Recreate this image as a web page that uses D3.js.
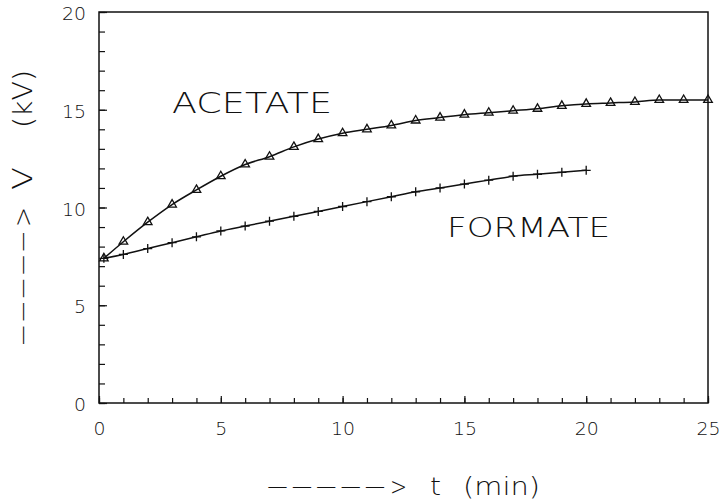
<!DOCTYPE html>
<html>
<head>
<meta charset="utf-8">
<script src="https://cdn.jsdelivr.net/npm/d3@7"></script>
<style>
  html, body { margin: 0; padding: 0; background: #fff; }
  svg { display: block; }
  text { font-family: 'DejaVu Sans', sans-serif; font-weight: 200; fill: #111; }
</style>
</head>
<body>
<svg id="chart" width="722" height="504"></svg>
<script>
// ---- data ----
const acetateT = [0.2, 1, 2, 3, 4, 5, 6, 7, 8, 9, 10, 11, 12, 13, 14, 15, 16, 17, 18, 19, 20, 21, 22, 23, 24, 25];
const acetateV = [7.4, 8.25, 9.25, 10.15, 10.9, 11.6, 12.2, 12.6, 13.1, 13.5, 13.8, 14.0, 14.2, 14.45, 14.6, 14.75, 14.85, 14.95, 15.05, 15.2, 15.3, 15.35, 15.4, 15.5, 15.5, 15.5];
const formateT = [0.2, 1, 2, 3, 4, 5, 6, 7, 8, 9, 10, 11, 12, 13, 14, 15, 16, 17, 18, 19, 20];
const formateV = [7.4, 7.6, 7.9, 8.2, 8.5, 8.8, 9.05, 9.3, 9.55, 9.8, 10.05, 10.3, 10.55, 10.8, 11.0, 11.2, 11.4, 11.6, 11.7, 11.8, 11.9];
const xMajorTicks = [0, 5, 10, 15, 20, 25];
const yMajorTicks = [0, 5, 10, 15, 20];
const xMinorTicks = d3.range(0, 26, 1);
const yMinorTicks = d3.range(0, 21, 1);
const seriesLabels = ["ACETATE", "FORMATE"];

const svg = d3.select("#chart");
const L = 99, R = 708, T = 12, B = 403;
const x = d3.scaleLinear().domain([0, 25]).range([L, R]);
const y = d3.scaleLinear().domain([0, 20]).range([B, T]);

// frame
svg.append("rect").attr("x", L).attr("y", T).attr("width", R - L).attr("height", B - T)
  .attr("fill", "none").attr("stroke", "#111").attr("stroke-width", 1.5);

// axes: minor ticks
const gxMinor = svg.append("g").attr("transform", `translate(0,${B})`)
  .call(d3.axisBottom(x).tickValues(xMinorTicks).tickSize(-5).tickFormat(""));
const gyMinor = svg.append("g").attr("transform", `translate(${L},0)`)
  .call(d3.axisLeft(y).tickValues(yMinorTicks).tickSize(-6).tickFormat(""));
// major ticks with labels
const gx = svg.append("g").attr("transform", `translate(0,${B})`)
  .call(d3.axisBottom(x).tickValues(xMajorTicks).tickSize(-7).tickPadding(20).tickFormat(d3.format("d")));
const gy = svg.append("g").attr("transform", `translate(${L},0)`)
  .call(d3.axisLeft(y).tickValues(yMajorTicks).tickSize(-8).tickPadding(13).tickFormat(d3.format("d")));

[gxMinor, gyMinor, gx, gy].forEach(g => {
  g.select(".domain").remove();
  g.selectAll(".tick line").attr("stroke", "#111").attr("stroke-width", 1.2);
});
[gx, gy].forEach(g => {
  g.selectAll(".tick text")
    .attr("font-family", "'DejaVu Sans', sans-serif")
    .attr("font-weight", 200)
    .attr("font-size", 17)
    .attr("fill", "#111")
    .attr("textLength", d => String(d).length * 12)
    .attr("lengthAdjust", "spacingAndGlyphs");
});
gy.selectAll(".tick text").attr("dy", "0.45em");

// curves
const line = d3.line().x(d => x(d[0])).y(d => y(d[1])).curve(d3.curveMonotoneX);
const acetate = acetateT.map((t, i) => [t, acetateV[i]]);
const formate = formateT.map((t, i) => [t, formateV[i]]);

svg.append("path").datum(acetate).attr("d", line)
  .attr("fill", "none").attr("stroke", "#111").attr("stroke-width", 1.5);
svg.append("path").datum(formate).attr("d", line)
  .attr("fill", "none").attr("stroke", "#111").attr("stroke-width", 1.5);

// markers
const tri = d3.symbol().type(d3.symbolTriangle).size(32);
svg.append("g").selectAll("path").data(acetate).join("path")
  .attr("transform", d => `translate(${x(d[0])},${y(d[1])})`)
  .attr("d", tri).attr("fill", "none").attr("stroke", "#111").attr("stroke-width", 1.3);
svg.append("g").selectAll("path").data(formate).join("path")
  .attr("transform", d => `translate(${x(d[0])},${y(d[1])})`)
  .attr("d", "M-4.5,0H4.5M0,-4.5V4.5").attr("fill", "none").attr("stroke", "#111").attr("stroke-width", 1.3);

// series labels
svg.append("text").attr("x", 172).attr("y", 113).attr("font-size", 28)
  .attr("textLength", 160).attr("lengthAdjust", "spacingAndGlyphs").text(seriesLabels[0]);
svg.append("text").attr("x", 447).attr("y", 237).attr("font-size", 27)
  .attr("textLength", 163).attr("lengthAdjust", "spacingAndGlyphs").text(seriesLabels[1]);

// x title
const xt = svg.append("g");
const xParts = [["−−−−−", 265, 122], [">", 390, 17], ["t", 430, 11], ["(min)", 463, 77]];
xParts.forEach(([s, px, w]) => {
  xt.append("text").attr("x", px).attr("y", 495).attr("font-size", 24)
    .attr("textLength", w).attr("lengthAdjust", "spacingAndGlyphs").text(s);
});

// y title (rotated)
const yt = svg.append("g").attr("transform", "translate(32,347) rotate(-90)");
const yParts = [["−−−−−", 0, 117], [">", 120, 20], ["V", 157, 23], ["(kV)", 219, 58]];
yParts.forEach(([s, px, w]) => {
  yt.append("text").attr("x", px).attr("y", 0).attr("font-size", 27)
    .attr("textLength", w).attr("lengthAdjust", "spacingAndGlyphs").text(s);
});
</script>
</body>
</html>
